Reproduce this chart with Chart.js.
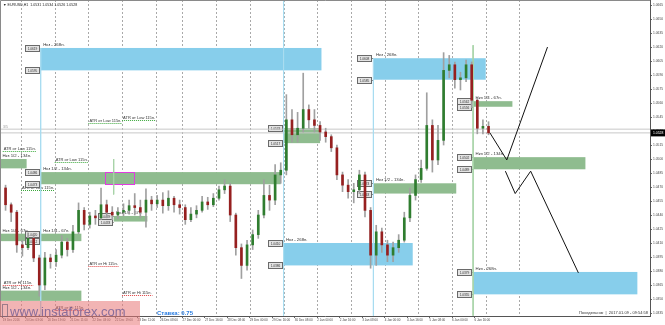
<!DOCTYPE html>
<html><head><meta charset="utf-8">
<script src="https://cdn.jsdelivr.net/npm/chart.js@4/dist/chart.umd.min.js"></script>
<style>html,body{margin:0;padding:0;background:#fff;overflow:hidden}canvas{display:block}</style>
</head><body>
<canvas id="c" width="665" height="325" style="width:665px;height:325px"></canvas>
<script>
// ---------- data ----------
const titleText = '\u25BC EURUSD,H1  1.0531 1.0534 1.0526 1.0528';
const xLabels = ['19 Dec 2016','20 Dec 03:00','20 Dec 19:00','21 Dec 11:00','22 Dec 03:00','22 Dec 19:00','23 Dec 11:00','26 Dec 08:00','27 Dec 00:00','27 Dec 16:00','28 Dec 08:00','29 Dec 00:00','29 Dec 16:00','30 Dec 08:00','2 Jan 00:00','2 Jan 16:00','3 Jan 08:00','4 Jan 00:00','4 Jan 16:00','5 Jan 08:00','6 Jan 00:00','6 Jan 16:00'];
const xLabelBars = xLabels.map((_, i) => i * 16 - 1);   // one label every 16 hourly bars
const dayStarts = [12,36,60,84,108,127,151,175,199,223,247,271,295,319,343,367];
const yTicks = [1.0665,1.0650,1.0635,1.0620,1.0605,1.0590,1.0575,1.0560,1.0545,1.0530,1.0515,1.0500,1.0485,1.0470,1.0455,1.0440,1.0425,1.0410,1.0395,1.0380,1.0365,1.0350,1.0335];

// 4-hour candles
const candleHours = 4;
const opens = [1.0469,1.0451,1.0443,1.0408,1.0405,1.0415,1.0394,1.0365,1.0394,1.0390,
1.0397,1.0411,1.0403,1.0422,1.0445,1.0430,1.0439,1.0437,1.0451,1.0443,
1.0440,1.0443,1.0445,1.0450,1.0448,1.0443,1.0456,1.0452,1.0456,1.0450,
1.0458,1.0451,1.0448,1.0435,1.0441,1.0445,1.0454,1.0451,1.0458,1.0467,
1.0471,1.0440,1.0405,1.0386,1.0408,1.0419,1.0440,1.0461,1.0456,1.0483,
1.0488,1.0542,1.0526,1.0533,1.0553,1.0542,1.0536,1.0529,1.0524,1.0512,
1.0483,1.0472,1.0465,1.0467,1.0483,1.0445,1.0397,1.0422,1.0408,1.0397,
1.0405,1.0413,1.0437,1.0461,1.0478,1.0490,1.0536,1.0499,1.0520,1.0595,
1.0601,1.0585,1.0587,1.0601,1.0563,1.0533,1.0535];
const highs = [1.0472,1.0453,1.0445,1.0413,1.0421,1.0419,1.0397,1.0400,1.0398,1.0403,
1.0418,1.0415,1.0429,1.0453,1.0448,1.0443,1.0445,1.0469,1.0456,1.0449,
1.0448,1.0452,1.0456,1.0463,1.0456,1.0468,1.0460,1.0461,1.0464,1.0466,
1.0460,1.0456,1.0451,1.0448,1.0450,1.0460,1.0459,1.0463,1.0471,1.0478,
1.0474,1.0442,1.0409,1.0413,1.0424,1.0445,1.0478,1.0472,1.0494,1.0496,
1.0569,1.0553,1.0550,1.0592,1.0558,1.0553,1.0540,1.0533,1.0526,1.0515,
1.0486,1.0478,1.0474,1.0488,1.0486,1.0448,1.0429,1.0426,1.0413,1.0411,
1.0419,1.0443,1.0469,1.0483,1.0499,1.0571,1.0542,1.0536,1.0614,1.0611,
1.0604,1.0593,1.0606,1.0604,1.0565,1.0542,1.0540];
const lows = [1.0445,1.0433,1.0400,1.0396,1.0403,1.0390,1.0353,1.0360,1.0383,1.0385,
1.0394,1.0396,1.0400,1.0420,1.0424,1.0426,1.0430,1.0435,1.0437,1.0435,
1.0436,1.0439,1.0441,1.0440,1.0437,1.0427,1.0445,1.0448,1.0442,1.0445,
1.0443,1.0441,1.0430,1.0433,1.0437,1.0443,1.0446,1.0449,1.0456,1.0463,
1.0433,1.0397,1.0372,1.0381,1.0403,1.0415,1.0437,1.0445,1.0451,1.0474,
1.0483,1.0518,1.0518,1.0529,1.0533,1.0529,1.0520,1.0518,1.0508,1.0478,
1.0465,1.0458,1.0453,1.0463,1.0438,1.0383,1.0386,1.0400,1.0390,1.0390,
1.0400,1.0411,1.0433,1.0456,1.0475,1.0488,1.0486,1.0494,1.0515,1.0587,
1.0576,1.0574,1.0583,1.0555,1.0527,1.0527,1.0526];
const closes = [1.0451,1.0443,1.0408,1.0405,1.0415,1.0394,1.0365,1.0394,1.0390,1.0397,
1.0411,1.0403,1.0422,1.0445,1.0430,1.0439,1.0437,1.0451,1.0443,1.0440,
1.0443,1.0445,1.0450,1.0448,1.0443,1.0456,1.0452,1.0456,1.0450,1.0458,
1.0451,1.0448,1.0435,1.0441,1.0445,1.0454,1.0451,1.0458,1.0467,1.0471,
1.0440,1.0405,1.0386,1.0408,1.0419,1.0440,1.0461,1.0456,1.0483,1.0488,
1.0542,1.0526,1.0533,1.0553,1.0542,1.0536,1.0529,1.0524,1.0512,1.0483,
1.0472,1.0465,1.0467,1.0483,1.0445,1.0397,1.0422,1.0408,1.0397,1.0405,
1.0413,1.0437,1.0461,1.0478,1.0490,1.0536,1.0499,1.0520,1.0595,1.0601,
1.0585,1.0587,1.0601,1.0563,1.0533,1.0535,1.0528];
const askBid = [1.0532, 1.0528];

// zones
const zoneKind  = ['blue','blue','blue','blue','green','green','green','green','green','green','green','green','green','green'];
const zoneStart = [26,199,263,334,-3,26,78,-3,26,-3,199,263,334,334];
const zoneEnd   = [226,291,343,451,16,197,102,26,55,55,225,322,362,414];
const zoneTop   = [1.0619,1.0410,1.0608,1.0379,1.0500,1.0486,1.0439,1.0420,1.0420,1.0359,1.0533,1.0474,1.0562,1.0502];
const zoneBottom= [1.0595,1.0386,1.0585,1.0355,1.0490,1.0473,1.0433,1.0412,1.0412,1.0348,1.0517,1.0463,1.0556,1.0489];
const zoneLabel = ['Нкз - 268п.','Нкз - 268п.','Нкз - 268п.','Нкз - 268п.','Нкз 1/2 - 134п.','Нкз 1/2 - 134п.','Нкз 1/4 - 67п.','Нкз 1/4 - 67п.','Нкз 1/4 - 67п.','Нкз 1/2 - 134п.','','Нкз 1/2 - 134п.','Нкз 1/4 - 67п.','Нкз 1/2 - 134п.'];
const highlightBars = [72, 93];
const highlightPrices = [1.0486, 1.0473];

// ATR levels (per day)
const atrDay   = [-1,12,36,60,84,-1,36,60,84];
const atrLevel = [1.0509,1.0467,1.0497,1.0539,1.0542,1.0365,1.0338,1.0385,1.0354];
const atrSide  = ['Low','Low','Low','Low','Low','Hi','Hi','Hi','Hi'];

// vertical markers
const vLineBar  = [26,199,263,334,78];
const vLineFrom = [1.0619,1.0670,1.0608,1.0622,1.0500];
const vLineTo   = [1.0332,1.0332,1.0332,1.0332,1.0462];
const vLineKind = ['blue','blue','blue','green','green'];

// forecast paths
const fcABars = [346,358,387], fcAPrices = [1.0528,1.0499,1.0620];
const fcBBars = [357,364,375,409], fcBPrices = [1.0487,1.0463,1.0487,1.0378];

const lastPrice = closes[closes.length - 1];

// ---------- chart ----------
const X_MIN = -2.96, X_MAX = 460.0, Y_MIN = 1.03318, Y_MAX = 1.06704;
const FONT = '"Liberation Sans", Arial, sans-serif';
const BLUE = '#87ceeb', GREEN = '#8fbc8f';
const candleX = k => k * candleHours + 1;

const datasets = [];
datasets.push({
  type: 'bar', order: 1, grouped: false, barThickness: 2, minBarLength: 1,
  data: opens.map((o, k) => ({ x: candleX(k), y: [o, closes[k]] })),
  backgroundColor: opens.map((o, k) => closes[k] >= o ? '#2f7d2f' : '#962020'),
  borderWidth: 0
});
datasets.push({
  type: 'bar', order: 2, grouped: false, barThickness: 1,
  data: lows.map((l, k) => ({ x: candleX(k), y: [l, highs[k]] })),
  backgroundColor: '#a0a0a0', borderWidth: 0
});
datasets.push({
  type: 'line', order: 0, data: fcABars.map((b, i) => ({ x: b, y: fcAPrices[i] })),
  borderColor: '#111', borderWidth: 1, pointRadius: 0, tension: 0, fill: false
});
datasets.push({
  type: 'line', order: 0, data: fcBBars.map((b, i) => ({ x: b, y: fcBPrices[i] })),
  borderColor: '#111', borderWidth: 1, pointRadius: 0, tension: 0, fill: false
});
askBid.forEach(p => datasets.push({
  type: 'line', order: 6, data: [{ x: X_MIN, y: p }, { x: X_MAX, y: p }],
  borderColor: '#c8c8c8', borderWidth: 1, pointRadius: 0, fill: false
}));
vLineBar.forEach((b, i) => datasets.push({
  type: 'line', order: 5, data: [{ x: b, y: vLineFrom[i] }, { x: b, y: vLineTo[i] }],
  borderColor: vLineKind[i] === 'blue' ? '#a9dcf0' : '#a8d4a8', borderWidth: 1, pointRadius: 0, fill: false
}));

const overlay = {
  id: 'overlay',
  beforeDatasetsDraw(chart) {
    const { ctx, chartArea: a, scales: { x, y } } = chart;
    ctx.save();
    ctx.beginPath(); ctx.rect(a.left, a.top, a.right - a.left, a.bottom - a.top); ctx.clip();
    // day separators
    ctx.strokeStyle = 'rgba(140,140,140,0.75)'; ctx.lineWidth = 1; ctx.setLineDash([2, 2]);
    dayStarts.forEach(b => {
      const px = Math.round(x.getPixelForValue(b)) + 0.5;
      ctx.beginPath(); ctx.moveTo(px, a.top); ctx.lineTo(px, a.bottom); ctx.stroke();
    });
    ctx.setLineDash([]);
    // zones
    zoneStart.forEach((s, i) => {
      const x0 = x.getPixelForValue(s), x1 = x.getPixelForValue(zoneEnd[i]);
      const y0 = y.getPixelForValue(zoneTop[i]), y1 = y.getPixelForValue(zoneBottom[i]);
      ctx.fillStyle = zoneKind[i] === 'blue' ? BLUE : GREEN;
      ctx.fillRect(x0, y0, x1 - x0, y1 - y0);
    });
    // magenta highlight
    {
      const x0 = x.getPixelForValue(highlightBars[0]), x1 = x.getPixelForValue(highlightBars[1]);
      const y0 = y.getPixelForValue(highlightPrices[0]), y1 = y.getPixelForValue(highlightPrices[1]);
      ctx.strokeStyle = '#e03ce0'; ctx.lineWidth = 1;
      ctx.strokeRect(Math.round(x0) + 0.5, Math.round(y0) + 0.5, Math.round(x1 - x0), Math.round(y1 - y0));
    }
    // zone labels
    ctx.fillStyle = '#333'; ctx.font = '4.3px ' + FONT; ctx.textBaseline = 'bottom'; ctx.textAlign = 'left';
    zoneStart.forEach((s, i) => {
      if (!zoneLabel[i]) return;
      const x0 = Math.max(x.getPixelForValue(s), a.left);
      ctx.fillText(zoneLabel[i], x0 + 2.5, y.getPixelForValue(zoneTop[i]) - 1);
    });
    // ATR labels with dotted underline
    atrDay.forEach((d, i) => {
      const px = Math.max(x.getPixelForValue(d), a.left + 2);
      const py = Math.round(y.getPixelForValue(atrLevel[i])) + 0.5;
      const txt = 'ATR от ' + atrSide[i] + ' 115п.';
      ctx.font = '4px ' + FONT;
      const w = ctx.measureText(txt).width + 2;
      ctx.strokeStyle = atrSide[i] === 'Low' ? '#3aa83a' : '#e04040';
      ctx.setLineDash([1, 1]); ctx.lineWidth = 1;
      ctx.beginPath(); ctx.moveTo(px, py); ctx.lineTo(px + w, py); ctx.stroke();
      ctx.setLineDash([]);
      ctx.fillStyle = '#333'; ctx.textBaseline = 'bottom';
      ctx.fillText(txt, px + 1, py - 1);
    });
    // price boxes
    ctx.font = '3.2px ' + FONT; ctx.textAlign = 'center'; ctx.textBaseline = 'middle';
    zoneStart.forEach((s, i) => {
      const x0 = x.getPixelForValue(s);
      if (x0 < a.left + 10) return;
      [zoneTop[i], zoneBottom[i]].forEach(p => {
        const py = y.getPixelForValue(p);
        const bx = Math.round(x0 - 16) + 0.5, by = Math.round(py - 3) + 0.5;
        ctx.strokeStyle = '#777'; ctx.lineWidth = 1;
        ctx.beginPath(); ctx.moveTo(bx + 14, Math.round(py) + 0.5); ctx.lineTo(x0, Math.round(py) + 0.5); ctx.stroke();
        ctx.fillStyle = '#e4e4e4'; ctx.fillRect(bx, by, 14, 6);
        ctx.strokeStyle = '#6a6a6a'; ctx.strokeRect(bx, by, 14, 6);
        ctx.fillStyle = '#333'; ctx.fillText(p.toFixed(4), bx + 7, by + 3.2);
      });
    });
    ctx.textAlign = 'left';
    ctx.fillStyle = '#999'; ctx.font = '3.5px ' + FONT; ctx.textBaseline = 'middle';
    ctx.fillText('3/5', a.left + 3, 127);
    ctx.restore();
  },
  afterDraw(chart) {
    const { ctx, chartArea: a, scales: { y } } = chart;
    ctx.save();
    // frame
    ctx.strokeStyle = '#8a8a8a'; ctx.lineWidth = 1;
    ctx.beginPath(); ctx.moveTo(0.5, a.bottom); ctx.lineTo(0.5, 0.5); ctx.lineTo(a.right, 0.5); ctx.stroke();
    // current price tag
    const py = y.getPixelForValue(lastPrice);
    ctx.fillStyle = '#000'; ctx.fillRect(a.right + 1, py - 3.5, 14, 7);
    ctx.fillStyle = '#fff'; ctx.font = '3.4px ' + FONT; ctx.textBaseline = 'middle'; ctx.textAlign = 'left';
    ctx.fillText(lastPrice.toFixed(4), a.right + 3, py);
    // title
    ctx.fillStyle = '#222'; ctx.font = '3.6px ' + FONT;
    ctx.fillText(titleText, 3, 5);
    // date stamp
    ctx.fillStyle = '#333'; ctx.font = '4px ' + FONT; ctx.textAlign = 'right';
    ctx.fillText('Понедельник  |  2017.01.09 - 09:54:58', a.right - 2, 313);
    // rate
    ctx.textAlign = 'left'; ctx.fillStyle = '#2a7de1'; ctx.font = 'bold 6px ' + FONT;
    ctx.fillText('Ставка: 0.75', 157, 313);
    // watermark
    ctx.fillStyle = 'rgba(232,118,118,0.55)'; ctx.fillRect(0, 301, 140, 24);
    ctx.strokeStyle = 'rgba(120,100,120,0.7)'; ctx.strokeRect(2.5, 304.5, 5, 12);
    ctx.fillStyle = 'rgba(120,98,150,0.85)'; ctx.font = '13px ' + FONT; ctx.textBaseline = 'middle';
    ctx.fillText('www.instaforex.com', 10, 312);
    ctx.restore();
  }
};

new Chart(document.getElementById('c'), {
  type: 'bar',
  data: { datasets },
  options: {
    responsive: false, animation: false, events: [],
    layout: { padding: 0 },
    plugins: { legend: { display: false }, tooltip: { enabled: false }, title: { display: false } },
    scales: {
      x: {
        type: 'linear', min: X_MIN, max: X_MAX, offset: false,
        grid: { drawOnChartArea: false, drawTicks: true, tickLength: 2, color: '#666', offset: false },
        border: { display: true, color: '#555' },
        ticks: {
          autoSkip: false, maxRotation: 0, minRotation: 0, align: 'start', padding: 0,
          font: { size: 3, family: FONT }, color: '#444',
          callback: (v, i) => xLabels[i]
        },
        afterBuildTicks: s => { s.ticks = xLabelBars.map(v => ({ value: v })); },
        afterFit: s => { s.height = 9; s.paddingLeft = 0; s.paddingRight = 0; }
      },
      y: {
        type: 'linear', position: 'right', min: Y_MIN, max: Y_MAX,
        grid: { drawOnChartArea: false, drawTicks: true, tickLength: 2, color: '#666' },
        border: { display: true, color: '#555' },
        ticks: { padding: 1, font: { size: 3.3, family: FONT }, color: '#444', callback: v => Number(v).toFixed(4) },
        afterBuildTicks: s => { s.ticks = yTicks.map(v => ({ value: v })); },
        afterFit: s => { s.width = 15; s.paddingTop = 0; s.paddingBottom = 0; }
      }
    }
  },
  plugins: [overlay]
});
</script>
</body></html>
